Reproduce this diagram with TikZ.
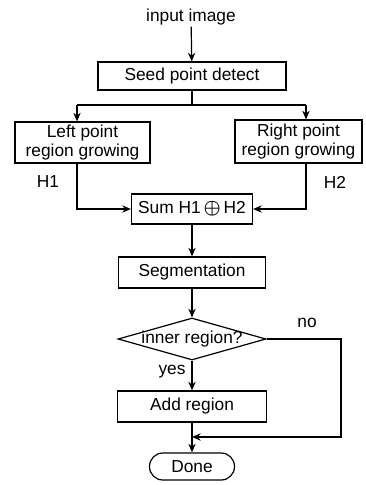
\documentclass[tikz,border=0pt]{standalone}
\usepackage{fontspec}
\setmainfont{Liberation Sans}
\usetikzlibrary{shapes.geometric,arrows.meta}

\begin{document}
\begin{tikzpicture}[x=0.75pt,y=0.75pt,yscale=-1,xscale=1,
  line width=0.9pt,
  every node/.style={font=\fontsize{13}{14}\selectfont},
  box/.style={draw,rectangle,inner sep=0.75pt,align=center},
  dec/.style={draw,diamond,inner xsep=-5pt,inner ysep=-2pt,aspect=3.5},
  term/.style={draw,rectangle,rounded corners=10pt,inner sep=0.75pt},
  arr/.style={-{Stealth[length=6.5pt,width=5.5pt]}},
  lbl/.style={inner sep=0.75pt}]
%set diagram left start at 0, and has height of 485
\useasboundingbox (0,0) rectangle (365,485);

% Text Node
\node[lbl] (inp) at (191,17) {input image};
%Shape: Rectangle
\node[box,minimum width=141pt,minimum height=21pt] (seed) at (192,76) {Seed point detect};
%Shape: Rectangle
\node[box,minimum width=101.25pt,minimum height=30.75pt] (left) at (82.5,142.5) {Left point\\region growing};
%Shape: Rectangle
\node[box,minimum width=95.25pt,minimum height=32.25pt] (right) at (298.5,141.5) {Right point\\region growing};
% Text Node
\node[lbl] (h1) at (48,182) {H1};
% Text Node
\node[lbl] (h2) at (335,182) {H2};
%Shape: Rectangle
\node[box,minimum width=90.75pt,minimum height=22.5pt] (sum) at (192,209) {Sum H1\,{\fontsize{15}{15}\selectfont\boldmath$\oplus$}\,H2};
%Shape: Rectangle
\node[box,minimum width=110.25pt,minimum height=23.25pt] (seg) at (192,272.5) {Segmentation};
%Shape: Diamond
\node[dec,minimum width=111pt,minimum height=31.5pt] (inner) at (192,339) {inner region?};
% Text Node
\node[lbl] (no) at (307,323) {no};
% Text Node
\node[lbl] (yes) at (172,372) {yes};
%Shape: Rectangle
\node[box,minimum width=111.75pt,minimum height=23.25pt] (add) at (192,406.5) {Add region};
%Shape: Rounded Rect
\node[term,minimum width=63.75pt,minimum height=20.25pt] (done) at (192,466.5) {Done};

%Branch points
\coordinate (fork) at (192,105);
\coordinate (forkL) at (77,105);
\coordinate (forkR) at (306,105);
\coordinate (noturn) at (341,437);

%Straight Lines
\draw[arr] (inp) -- (seed);
\draw (seed.south) -- (fork);
\draw (forkL) -- (forkR);
\draw[arr] (forkL) -- (forkL |- left.north);
\draw[arr] (forkR) -- (forkR |- right.north);
\draw[arr] (forkL |- left.south) |- (sum.west);
\draw[arr] (forkR |- right.south) |- (sum.east);
\draw[arr] (sum) -- (seg);
\draw[arr] (seg) -- (inner);
\draw[arr] (inner) -- (add);
\draw[arr] (inner.east) -| (noturn) -- (noturn -| add.south);
\draw[arr] (add) -- (done);

\end{tikzpicture}
\end{document}
